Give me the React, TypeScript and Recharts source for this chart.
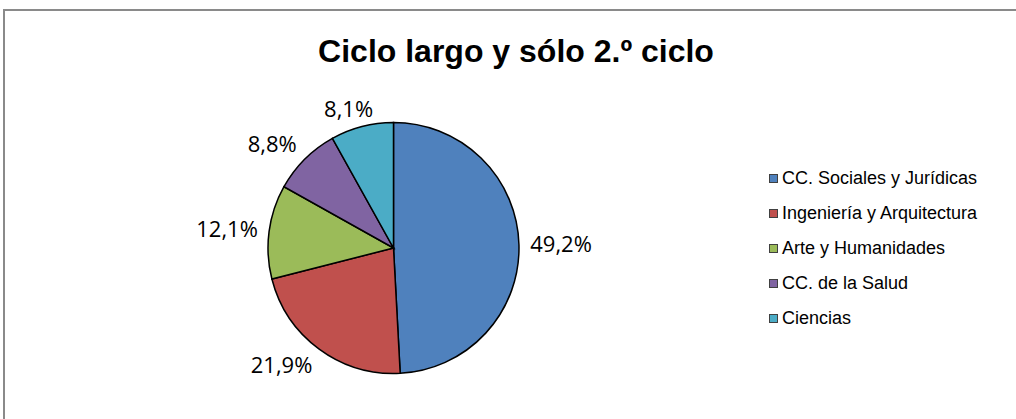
import React from 'react';
import { PieChart, Pie, Cell, Legend } from 'recharts';

const categories = [
  'CC. Sociales y Jurídicas',
  'Ingeniería y Arquitectura',
  'Arte y Humanidades',
  'CC. de la Salud',
  'Ciencias',
];
const values = [49.2, 21.9, 12.1, 8.8, 8.1];
const colors = ['#4F81BD', '#C0504D', '#9BBB59', '#8064A2', '#4BACC6'];
const title = 'Ciclo largo y sólo 2.º ciclo';

const data = categories.map((name, i) => ({ name, value: values[i] }));
const fmt = (v: number) => `${v.toFixed(1).replace('.', ',')}%`;

const LABEL_FS = 22;
const charW: Record<string, number> = { ',': 0.27, '%': 0.84 };
const textWidth = (s: string) =>
  s.split('').reduce((a, c) => a + (charW[c] ?? 0.572), 0) * LABEL_FS;

const clamp = (v: number) => Math.max(-1, Math.min(1, v));

const renderLabel = (props: any) => {
  const { cx, cy, midAngle, outerRadius, index } = props;
  const RAD = Math.PI / 180;
  const ux = Math.cos(-midAngle * RAD);
  const uy = Math.sin(-midAngle * RAD);
  const d = outerRadius + 11;
  const px = cx + d * ux;
  const py = cy + d * uy;
  const txt = fmt(values[index]);
  const w = textWidth(txt);
  const h = 14;
  const centerX = px + clamp(ux * 1.7) * (w / 2);
  const centerY = py + clamp(uy * 1.7) * (h / 2);
  return (
    <text
      key={`lbl-${index}`}
      x={centerX}
      y={centerY + 0.714 * LABEL_FS / 2}
      textAnchor="middle"
      fill="#000"
      fontFamily="'Open Sans', sans-serif"
      fontSize={LABEL_FS}
    >
      {txt}
    </text>
  );
};

const renderLegend = () => (
  <div style={{ fontFamily: "'Liberation Sans', Arial, sans-serif", fontSize: 18, color: '#000' }}>
    {categories.map((c, i) => (
      <div key={c} style={{ display: 'flex', alignItems: 'center', height: 35, whiteSpace: 'nowrap' }}>
        <span
          style={{
            display: 'inline-block',
            width: 7,
            height: 7,
            background: colors[i],
            border: '1px solid #404040',
            marginRight: 4,
          }}
        />
        <span>{c}</span>
      </div>
    ))}
  </div>
);

export default function App() {
  return (
    <div
      style={{
        position: 'absolute',
        left: 0,
        top: 0,
        width: 1016,
        height: 419,
        background: '#fff',
        overflow: 'hidden',
      }}
    >
      <div
        style={{
          position: 'absolute',
          left: 3,
          top: 9,
          width: 1100,
          height: 500,
          borderLeft: '2px solid #8a8a8a',
          borderTop: '2px solid #8a8a8a',
        }}
      />
      <div
        style={{
          position: 'absolute',
          left: 0,
          top: 35,
          width: 1032,
          textAlign: 'center',
          fontFamily: "'Liberation Sans', Arial, sans-serif",
          fontWeight: 'bold',
          fontSize: 32,
          lineHeight: '32px',
          color: '#000',
        }}
      >
        {title}
      </div>
      <div style={{ position: 'absolute', left: 0, top: 0 }}>
        <PieChart width={1016} height={419} margin={{ top: 0, right: 0, bottom: 0, left: 0 }}>
          <Pie
            data={data}
            dataKey="value"
            nameKey="name"
            cx={393.5}
            cy={248}
            outerRadius={125.5}
            startAngle={90}
            endAngle={-270}
            stroke="#000"
            strokeWidth={1.5}
            label={renderLabel}
            labelLine={false}
            isAnimationActive={false}
          >
            {data.map((d, i) => (
              <Cell key={d.name} fill={colors[i]} />
            ))}
          </Pie>
          <Legend
            layout="vertical"
            align="right"
            verticalAlign="middle"
            content={renderLegend}
            wrapperStyle={{ left: 769, top: 160.5, right: 'auto', width: 240 }}
          />
        </PieChart>
      </div>
    </div>
  );
}
